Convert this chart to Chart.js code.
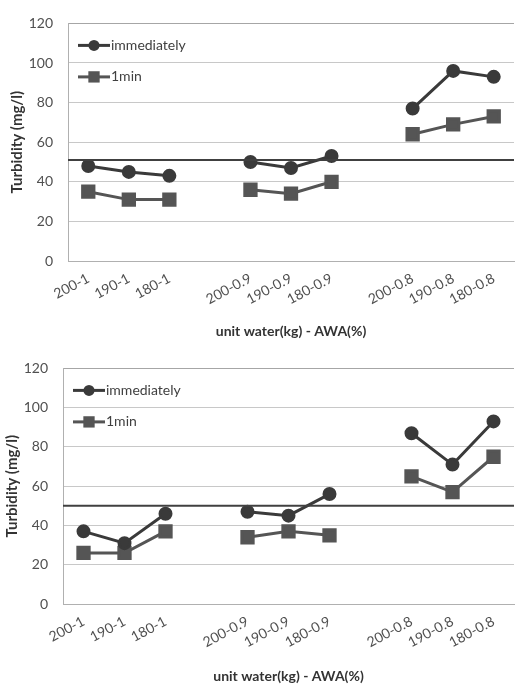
<!DOCTYPE html>
<html>
<head>
<meta charset="utf-8">
<script src="https://cdn.jsdelivr.net/npm/chart.js@4/dist/chart.umd.min.js"></script>
<style>
  html, body { margin: 0; padding: 0; background: #fff; }
  .wrap { width: 525px; height: 345px; position: relative; }
  canvas { display: block; }
</style>
</head>
<body>
<div class="wrap"><canvas id="c1" width="525" height="345"></canvas></div>
<div class="wrap"><canvas id="c2" width="525" height="345"></canvas></div>
<script>
// ---- data ----
const categories = ['200-1', '190-1', '180-1', '', '200-0.9', '190-0.9', '180-0.9', '', '200-0.8', '190-0.8', '180-0.8'];
const seriesNames = ['immediately', '1min'];
const topImmediately = [48, 45, 43, null, 50, 47, 53, null, 77, 96, 93];
const top1min        = [35, 31, 31, null, 36, 34, 40, null, 64, 69, 73];
const bottomImmediately = [37, 31, 46, null, 47, 45, 56, null, 87, 71, 93];
const bottom1min        = [26, 26, 37, null, 34, 37, 35, null, 65, 57, 75];
const topReference = 51;
const bottomReference = 50;
const yMin = 0, yMax = 120, yStep = 20;
const yTitle = 'Turbidity (mg/l)';
const xTitle = 'unit water(kg) - AWA(%)';

const FONT = 'Lato, "Open Sans", sans-serif';

// reference line + in-plot legend
const extras = {
  id: 'extras',
  afterDatasetsDraw(chart, args, opts) {
    const {ctx, chartArea: a, scales: {y}} = chart;
    const yy = y.getPixelForValue(opts.refValue);
    ctx.save();
    ctx.strokeStyle = '#404040';
    ctx.lineWidth = 2;
    ctx.beginPath();
    ctx.moveTo(a.left, yy);
    ctx.lineTo(a.right, yy);
    ctx.stroke();
    // legend
    chart.data.datasets.forEach((ds, i) => {
      const ly = a.top + 22 + i * 31.5;
      const x0 = a.left + 10, x1 = a.left + 42;
      ctx.strokeStyle = ds.borderColor;
      ctx.lineWidth = 3;
      ctx.beginPath(); ctx.moveTo(x0, ly); ctx.lineTo(x1, ly); ctx.stroke();
      ctx.fillStyle = ds.pointBackgroundColor;
      const mx = a.left + 26;
      if (ds.pointStyle === 'circle') {
        ctx.beginPath(); ctx.arc(mx, ly, ds.pointRadius, 0, Math.PI * 2); ctx.fill();
      } else {
        const s = ds.pointRadius * Math.SQRT1_2;
        ctx.fillRect(mx - s, ly - s, 2 * s, 2 * s);
      }
      ctx.fillStyle = '#404040';
      ctx.font = '14px ' + FONT;
      ctx.textBaseline = 'middle';
      ctx.textAlign = 'left';
      ctx.fillText(ds.label, x1 + 1, ly);
    });
    ctx.restore();
  }
};

function makeChart(id, a, b, ref, geo) {
  return new Chart(document.getElementById(id), {
    type: 'line',
    data: {
      labels: categories,
      datasets: [
        { label: seriesNames[0], data: a, borderColor: '#3a3a3a', backgroundColor: '#3a3a3a',
          pointBackgroundColor: '#3a3a3a', pointBorderColor: '#3a3a3a', borderWidth: 3,
          pointStyle: 'circle', pointRadius: 5.5, pointHoverRadius: 5.5, spanGaps: false },
        { label: seriesNames[1], data: b, borderColor: '#555555', backgroundColor: '#555555',
          pointBackgroundColor: '#555555', pointBorderColor: '#555555', borderWidth: 3,
          pointStyle: 'rect', pointRadius: 8, pointHoverRadius: 8, spanGaps: false }
      ]
    },
    options: {
      responsive: false,
      animation: false,
      devicePixelRatio: 1,
      layout: { padding: { top: geo.top, right: 0, bottom: 0, left: 0 } },
      plugins: { legend: { display: false }, tooltip: { enabled: false }, extras: { refValue: ref } },
      scales: {
        x: {
          type: 'category',
          offset: true,
          grid: { display: false, drawTicks: false },
          border: { display: true, color: '#b0b0b0', width: 1 },
          ticks: { color: '#505050', font: { family: FONT, size: 14 }, minRotation: 28, maxRotation: 28, autoSkip: false, padding: 9 },
          title: { display: true, text: xTitle, color: '#333333', font: { family: FONT, size: 14, weight: 'bold' }, padding: { top: 0, bottom: 5 } },
          afterFit: s => { s.height = geo.xh; }
        },
        y: {
          min: yMin, max: yMax,
          grid: { color: (c) => c.tick && c.tick.value === yMax ? '#a6a6a6' : '#c8c8c8', lineWidth: 1, drawTicks: false },
          border: { display: true, color: '#b0b0b0', width: 1 },
          ticks: { stepSize: yStep, color: '#505050', font: { family: FONT, size: 14 }, padding: 15 },
          title: { display: true, text: yTitle, color: '#333333', font: { family: FONT, size: 15, weight: 'bold' }, padding: { top: geo.tp, bottom: 0 } },
          afterFit: s => { s.width = geo.yw; }
        }
      }
    },
    plugins: [extras]
  });
}

makeChart('c1', topImmediately, top1min, topReference, { top: 14, xh: 84, yw: 68, tp: 8 });
makeChart('c2', bottomImmediately, bottom1min, bottomReference, { top: 13, xh: 86, yw: 63, tp: 3 });
</script>
</body>
</html>
